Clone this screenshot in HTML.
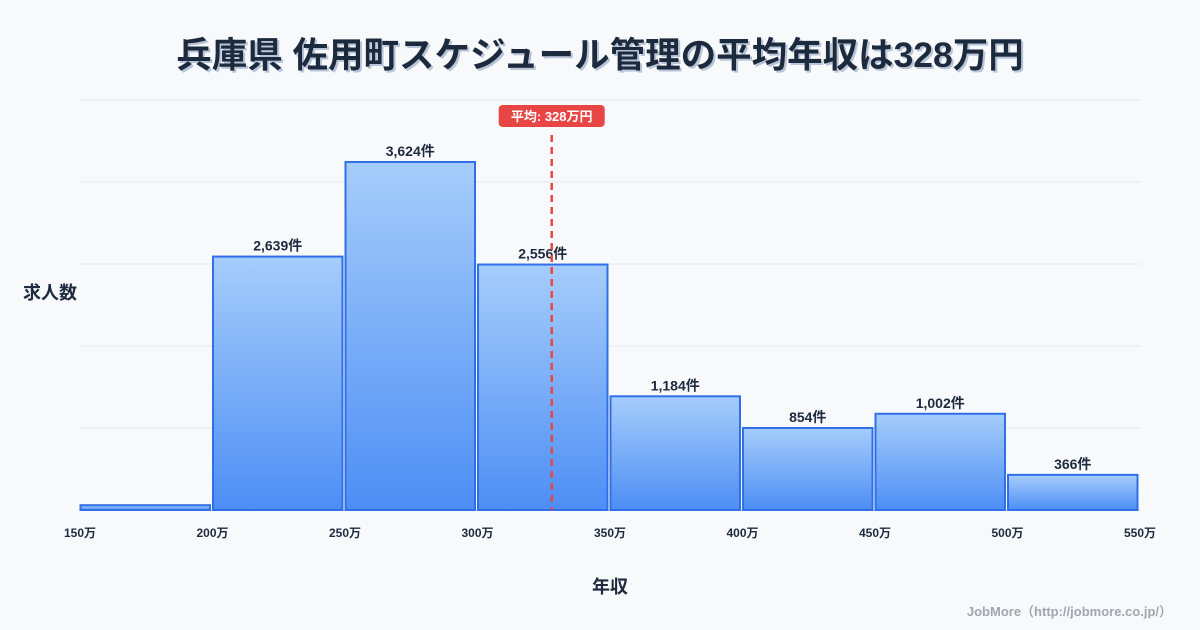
<!DOCTYPE html>
<html><head><meta charset="utf-8"><style>
body{margin:0;background:#f8f9fb;}
svg{display:block;font-family:"Liberation Sans","Noto Sans CJK JP",sans-serif;}
</style></head><body>
<svg id="c" width="1200" height="630" viewBox="0 0 1200 630">
<defs>
<linearGradient id="g" x1="0" y1="0" x2="0" y2="1"><stop offset="0" stop-color="#a6cdfb"/><stop offset="1" stop-color="#4d8ef5"/></linearGradient>
<filter id="sh"><feDropShadow dx="2" dy="2" stdDeviation="0" flood-color="#b8c4d8"/></filter>
</defs>
<rect width="1200" height="630" fill="#f8f9fb"/>
<text x="600" y="67" text-anchor="middle" font-size="35.5" font-weight="bold" fill="#1e2a3d" filter="url(#sh)">兵庫県 佐用町スケジュール管理の平均年収は328万円</text>
<g id="grid"></g><g id="bars"></g><g id="xt"></g>
<text x="50" y="299" text-anchor="middle" font-size="18" font-weight="bold" fill="#1e2a3d">求人数</text>
<text x="610" y="593" text-anchor="middle" font-size="18" font-weight="bold" fill="#1e2a3d">年収</text>
<text x="1172" y="616" text-anchor="end" font-size="13" font-weight="bold" fill="#a0a6b0">JobMore（http://jobmore.co.jp/）</text>
<g id="avg"></g>
</svg>
<script>
const binStarts=[150,200,250,300,350,400,450,500];
const counts=[50,2639,3624,2556,1184,854,1002,366];
const labels=["","2,639件","3,624件","2,556件","1,184件","854件","1,002件","366件"];
const xTicks=[150,200,250,300,350,400,450,500,550];
const average=328;
const NS="http://www.w3.org/2000/svg";
const X=v=>80+(v-150)*2.65;
const Y=c=>510-c*0.09603;
function mk(tag,attrs,parent,text){const e=document.createElementNS(NS,tag);for(const k in attrs)e.setAttribute(k,attrs[k]);if(text!==undefined)e.textContent=text;document.getElementById(parent).appendChild(e);return e;}
for(let i=0;i<6;i++){const y=100+i*82;
const l=mk('line',{x1:80,x2:1140,y1:y,y2:y,stroke:i==5?'#cfd5df':'#e3e7ee','stroke-width':1},'grid');

}
binStarts.forEach((b,i)=>{const x0=X(b)+0.5,x1=X(b+50)-2.5,y=Y(counts[i]);
const r=mk('rect',{x:x0,y:y,width:x1-x0,height:510-y,fill:'url(#g)',stroke:'#2f6fe8','stroke-width':2},'bars');


if(labels[i]){const t=mk('text',{x:(x0+x1)/2,y:y-6,'text-anchor':'middle','font-size':14,'font-weight':'bold',fill:'#1e2a3d'},'bars',labels[i]);

}});
xTicks.forEach(v=>{const t=mk('text',{x:X(v),y:537,'text-anchor':'middle','font-size':12,'font-weight':'bold',fill:'#1e2a3d'},'xt',v+'万');

});
const ax=X(average);
const al=mk('line',{x1:ax,x2:ax,y1:135,y2:510,stroke:'#e84545','stroke-width':2.5,'stroke-dasharray':'7,5'},'avg');


const ab=mk('rect',{x:ax-53,y:105,width:106,height:22,rx:4,fill:'#e84545'},'avg');


const at=mk('text',{x:ax,y:121,'text-anchor':'middle','font-size':13,'font-weight':'bold',fill:'#fff'},'avg','平均: '+average+'万円');


</script>
</body></html>
